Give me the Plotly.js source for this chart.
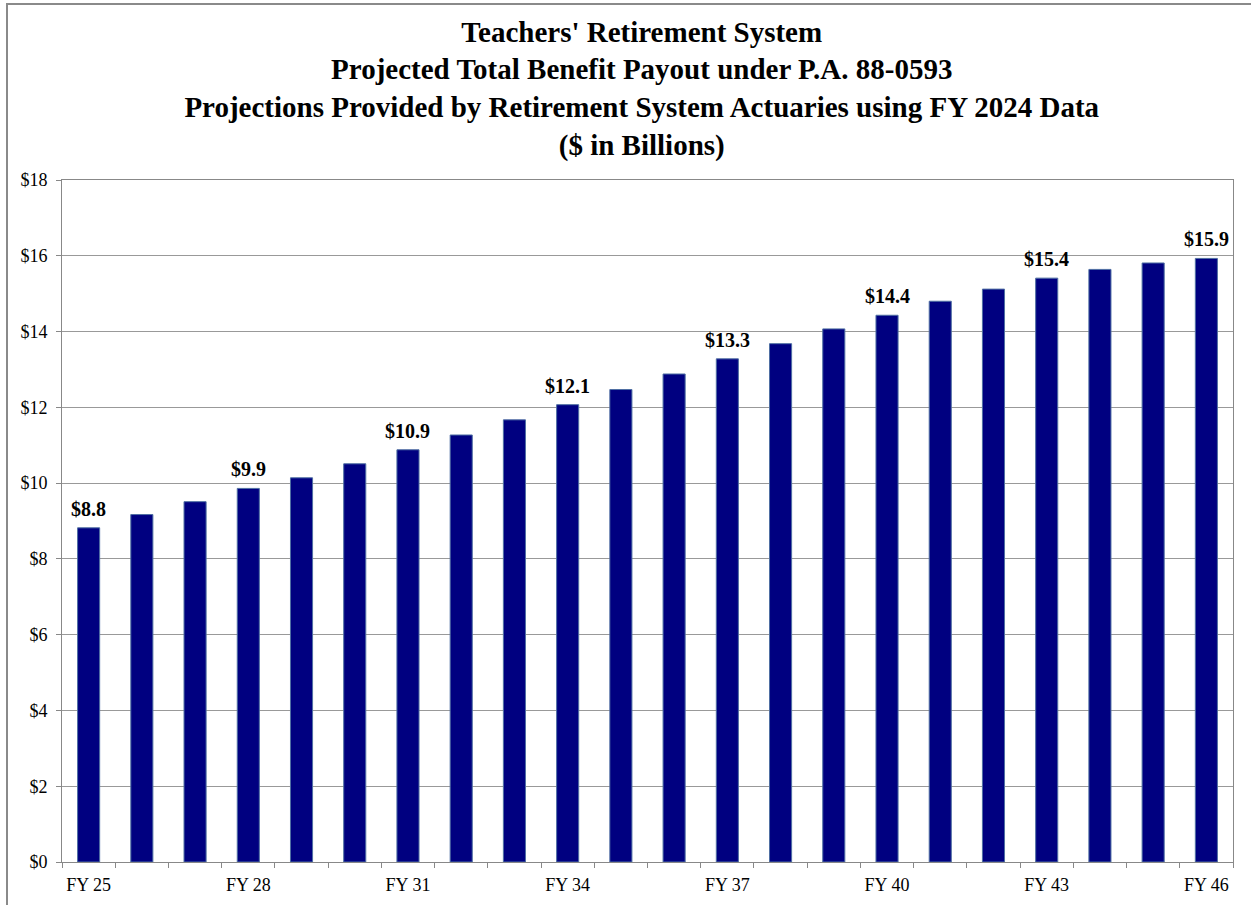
<!DOCTYPE html>
<html>
<head>
<meta charset="utf-8">
<script src="https://cdn.plot.ly/plotly-3.0.1.min.js"></script>
<style>
  html, body { margin: 0; padding: 0; background: #fff; overflow: hidden; }
  #chart { position: absolute; left: 0; top: 0; width: 1251px; height: 905px; }
  #frame { position: absolute; left: 6px; top: 3px; width: 1300px; height: 1000px;
           border: 2px solid #8a8a8a; box-sizing: border-box; pointer-events: none; }
</style>
</head>
<body>
<div id="chart"></div>
<div id="frame"></div>
<script>
const categories = ["FY 25","FY 26","FY 27","FY 28","FY 29","FY 30","FY 31","FY 32","FY 33","FY 34","FY 35",
                    "FY 36","FY 37","FY 38","FY 39","FY 40","FY 41","FY 42","FY 43","FY 44","FY 45","FY 46"];
const payout = [8.82, 9.17, 9.51, 9.86, 10.14, 10.51, 10.88, 11.27, 11.67, 12.07, 12.47,
                12.88, 13.28, 13.68, 14.07, 14.43, 14.80, 15.12, 15.41, 15.64, 15.81, 15.93];
const labeledEvery = 3;
const tickText = categories.map((c, i) => i % labeledEvery === 0 ? c : "");

const serif = "Liberation Serif";

const annotations = payout
  .map((v, i) => ({ v, i }))
  .filter(o => o.i % labeledEvery === 0)
  .map(o => ({
    x: categories[o.i], y: o.v, xref: "x", yref: "y",
    text: "<b>$" + o.v.toFixed(1) + "</b>", showarrow: false,
    yanchor: "bottom", yshift: 6,
    font: { family: serif, size: 20, color: "#000" }
  }));

const trace = {
  type: "bar",
  x: categories,
  y: payout,
  marker: { color: "#000080", line: { color: "#4f6fa3", width: 1 } },
  hoverinfo: "x+y"
};

const layout = {
  width: 1251, height: 905,
  margin: { l: 62, r: 18, t: 180, b: 43 },
  paper_bgcolor: "#fff", plot_bgcolor: "#fff",
  bargap: 0.585,
  showlegend: false,
  font: { family: serif },
  title: {
    text: "<b>Teachers' Retirement System<br>Projected Total Benefit Payout under P.A. 88-0593<br>Projections Provided by Retirement System Actuaries using FY 2024 Data<br>($ in Billions)</b>",
    font: { family: serif, size: 29, color: "#000" },
    x: 0.513, xanchor: "center", y: 0.954, yanchor: "top"
  },
  xaxis: {
    type: "category",
    tickmode: "array", tickvals: categories, ticktext: tickText,
    tickson: "boundaries",
    ticks: "outside", ticklen: 5, tickcolor: "#888", tickwidth: 1,
    showgrid: false, showline: true, linecolor: "#888", linewidth: 1, mirror: true,
    tickfont: { family: serif, size: 18, color: "#000" },
    tickangle: 0,
    ticklabelstandoff: 6
  },
  yaxis: {
    range: [0, 18], dtick: 2, tick0: 0,
    tickprefix: "$",
    ticks: "outside", ticklen: 5, tickcolor: "#888", tickwidth: 1,
    showgrid: true, gridcolor: "#999", gridwidth: 1,
    showline: true, linecolor: "#888", linewidth: 1, mirror: true,
    zeroline: false,
    tickfont: { family: serif, size: 18, color: "#000" },
    ticklabelstandoff: 5
  },
  annotations: annotations
};

Plotly.newPlot("chart", [trace], layout, { displayModeBar: false, staticPlot: true });
</script>
</body>
</html>
